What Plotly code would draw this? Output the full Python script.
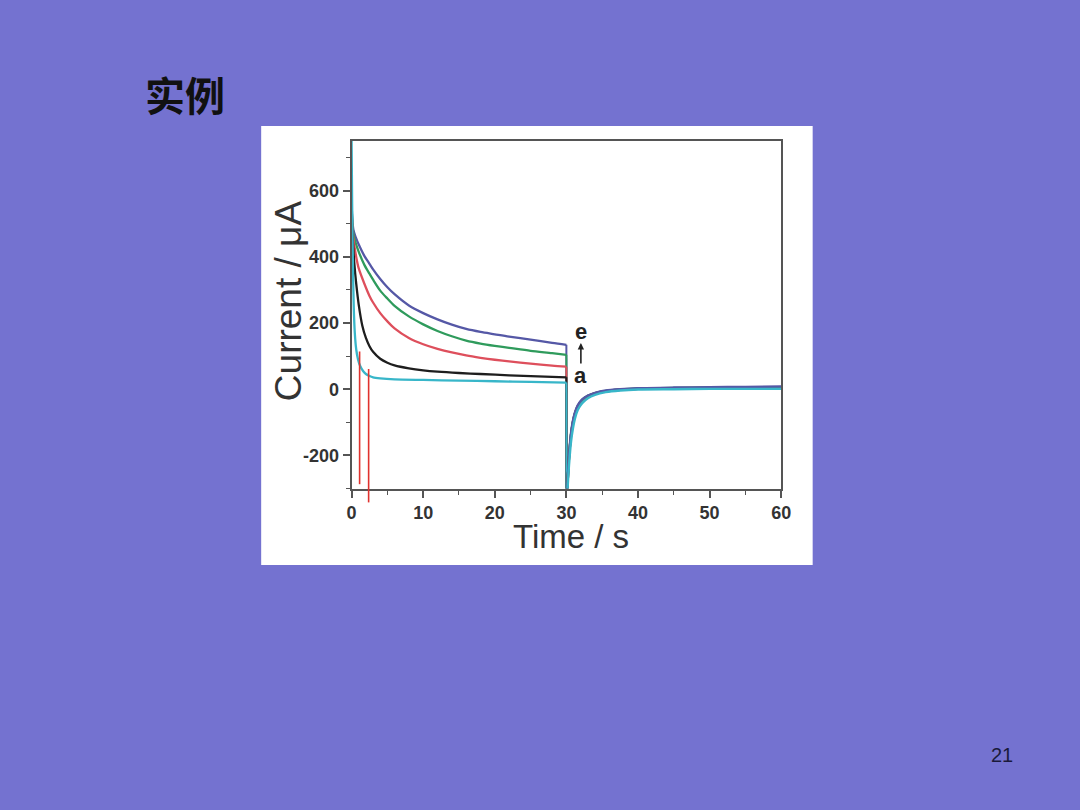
import plotly.graph_objects as go

# ---------------- data ----------------
# step 1 (0-30 s), curves a..e
t_a = [0, 0.08, 0.18, 0.3, 0.45, 0.65, 0.9, 1.2, 1.6, 2, 2.5, 3, 4, 6, 10, 15, 20, 25, 30]
i_a = [750, 560, 380, 250, 170, 120, 90, 70, 55, 46, 40, 36, 33, 30, 28, 26, 24, 22, 20]

t_b = [0, 0.2, 0.4, 0.65, 1, 1.5, 2, 2.5, 3, 4, 5, 6, 8, 10, 12, 15, 18, 22, 26, 30]
i_b = [520, 440, 375, 318, 255, 192, 155, 130, 113, 92, 80, 72, 63, 57, 53, 49, 46, 42, 39, 36]

t_c = [0, 0.25, 0.6, 1, 1.8, 2.5, 3, 4, 5, 6, 8, 10, 12, 14, 16, 18, 20, 22, 25, 28, 30]
i_c = [530, 455, 405, 365, 318, 282, 262, 230, 205, 184, 155, 136, 122, 111, 102, 95, 89, 84, 77, 71, 68]

t_d = [0, 0.25, 0.6, 1, 1.8, 2.5, 3, 4, 5, 6, 8, 10, 12, 14, 16, 18, 20, 22, 25, 28, 30]
i_d = [550, 470, 440, 415, 375, 349, 331, 298, 274, 252, 220, 196, 176, 160, 147, 138, 131, 125, 116, 109, 104]

t_e = [0, 0.25, 0.6, 1, 1.8, 2.5, 3, 4, 5, 6, 8, 10, 12, 14, 16, 18, 20, 22, 25, 28, 30]
i_e = [560, 482, 458, 437, 402, 379, 362, 333, 308, 287, 253, 230, 211, 195, 182, 173, 166, 159, 150, 140, 134]

# step 2 (30-60 s)
t_rec = [30.02, 30.15, 30.3, 30.45, 30.65, 30.9, 31.2, 31.6, 32.2, 33, 34, 35.5, 37.5, 40, 45, 50, 55, 60]
r_a = [-340, -305, -250, -205, -158, -120, -88, -62, -42, -27, -17, -9, -4, -1, 0, 1, 1, 1]
r_b = [-340, -292, -228, -184, -138, -102, -74, -52, -34, -21, -13, -6, -2, 1, 3, 3, 4, 4]
r_c = [-340, -291, -227, -182, -137, -101, -73, -51, -33, -21, -12, -6, -1, 1, 3, 4, 5, 5]
r_d = [-340, -290, -226, -181, -136, -100, -72, -50, -32, -20, -12, -5, -1, 2, 4, 5, 5, 6]
r_e = [-340, -288, -222, -177, -132, -97, -70, -48, -31, -19, -11, -4, 0, 3, 5, 6, 7, 8]

series_names = ["e", "d", "c", "b", "a"]
series_colors = ["#5558a6", "#2f9b5c", "#de4f5c", "#1e1e1e", "#38b6c9"]
step2_order = ["b", "c", "d", "e", "a"]

# red marker lines (time, top value, bottom value)
mark_t = [1.12, 2.38]
mark_top = [114, 61]
mark_bot = [-287, -342]

x_ticks = [0, 10, 20, 30, 40, 50, 60]
x_tick_labels = ["0", "10", "20", "30", "40", "50", "60"]
y_ticks = [-200, 0, 200, 400, 600]
y_tick_labels = ["-200", "0", "200", "400", "600"]
x_range = [0, 60]
y_range = [-300, 750]

# ---------------- layout helpers ----------------
W, H = 1080, 810


def px_x(p):
    # horizontal pixel position -> paper fraction (compensated for the capture's horizontal squeeze)
    return ((p - 4.6) / 0.987) / W


def px_y(p):
    return 1 - p / H


xdom = [px_x(351.5), px_x(781.5)]
ydom = [px_y(488.5), px_y(141)]


def data_to_paper_x(v):
    return xdom[0] + (v - x_range[0]) / (x_range[1] - x_range[0]) * (xdom[1] - xdom[0])


def data_to_paper_y(v):
    return ydom[0] + (v - y_range[0]) / (y_range[1] - y_range[0]) * (ydom[1] - ydom[0])


fig = go.Figure()

step1 = {"e": (t_e, i_e), "d": (t_d, i_d), "c": (t_c, i_c), "b": (t_b, i_b), "a": (t_a, i_a)}
step2 = {"e": r_e, "d": r_d, "c": r_c, "b": r_b, "a": r_a}
colors = dict(zip(series_names, series_colors))

for name in series_names:
    tt, ii = step1[name]
    col = colors[name]
    fig.add_trace(go.Scatter(x=tt, y=ii, mode="lines", line=dict(color=col, width=2.3, shape="spline", smoothing=0.8),
                             showlegend=False, hoverinfo="skip"))
    fig.add_trace(go.Scatter(x=[tt[-1], t_rec[0]], y=[ii[-1], step2[name][0]], mode="lines",
                             line=dict(color=col, width=2), showlegend=False, hoverinfo="skip"))

for name in step2_order:
    fig.add_trace(go.Scatter(x=t_rec, y=step2[name], mode="lines",
                             line=dict(color=colors[name], width=2.4, shape="spline", smoothing=0.8),
                             showlegend=False, hoverinfo="skip"))

shapes = [
    dict(type="rect", xref="paper", yref="paper", x0=px_x(261), x1=px_x(813), y0=px_y(565), y1=px_y(126),
         fillcolor="white", line=dict(width=0), layer="below"),
]
for t, a, b in zip(mark_t, mark_top, mark_bot):
    shapes.append(dict(type="line", xref="paper", yref="paper",
                       x0=data_to_paper_x(t), x1=data_to_paper_x(t),
                       y0=data_to_paper_y(b), y1=data_to_paper_y(a),
                       line=dict(color="#e0322e", width=1.6), layer="above"))

axis_font = dict(family="Arial, Liberation Sans, sans-serif", size=18, color="#333333", weight="bold")


def label(text, x, y, size, color="#333", weight="normal", family="Arial, Liberation Sans, sans-serif", angle=0):
    return dict(text=text, xref="paper", yref="paper", x=px_x(x), y=px_y(y), showarrow=False,
                xanchor="center", yanchor="middle", textangle=angle,
                font=dict(family=family, size=size, color=color, weight=weight))


fig.update_layout(
    width=W, height=H,
    autosize=False,
    margin=dict(l=0, r=0, t=0, b=0, pad=0),
    paper_bgcolor="#7472d0",
    plot_bgcolor="white",
    shapes=shapes,
    xaxis=dict(domain=xdom, range=x_range, tickvals=x_ticks, ticktext=x_tick_labels, ticks="outside", ticklen=7,
               tickwidth=1.5, tickcolor="#555", showline=True, linecolor="#555", linewidth=2, mirror=True,
               showgrid=False, zeroline=False, tickfont=axis_font,
               minor=dict(dtick=5, ticks="outside", ticklen=4, tickcolor="#555", tickwidth=1.2, showgrid=False)),
    yaxis=dict(domain=ydom, range=y_range, tickvals=y_ticks, ticktext=y_tick_labels, ticks="outside", ticklen=7,
               tickwidth=1.5, tickcolor="#555", showline=True, linecolor="#555", linewidth=2, mirror=True,
               showgrid=False, zeroline=False, tickfont=axis_font,
               minor=dict(dtick=100, ticks="outside", ticklen=4, tickcolor="#555", tickwidth=1.2, showgrid=False)),
    annotations=[
        label("实例", 185, 94, 40, color="#111", weight="bold", family="Noto Sans CJK SC"),
        label("21", 1002, 755, 20, color="#1a1a3a"),
        label("Current / μA", 289, 301, 37, angle=-90),
        label("Time / s", 571, 536, 33),
        label("e", 581, 331, 22, color="#222", weight="bold"),
        label("a", 581, 376, 22, color="#222", weight="bold"),
        dict(text="", xref="paper", yref="paper", x=px_x(581), y=px_y(343), ax=0, ay=22,
             showarrow=True, arrowhead=2, arrowsize=0.8, arrowwidth=1.6, arrowcolor="#222"),
    ],
)

fig.write_html(
    "out.html",
    config={"responsive": False, "displayModeBar": False},
    post_script="document.documentElement.style.margin='0';document.documentElement.style.overflow='hidden';"
                "document.body.style.margin='0';document.body.style.padding='0';document.body.style.overflow='hidden';"
                "document.body.style.background='#7472d0';document.documentElement.style.background='#7472d0';",
)
